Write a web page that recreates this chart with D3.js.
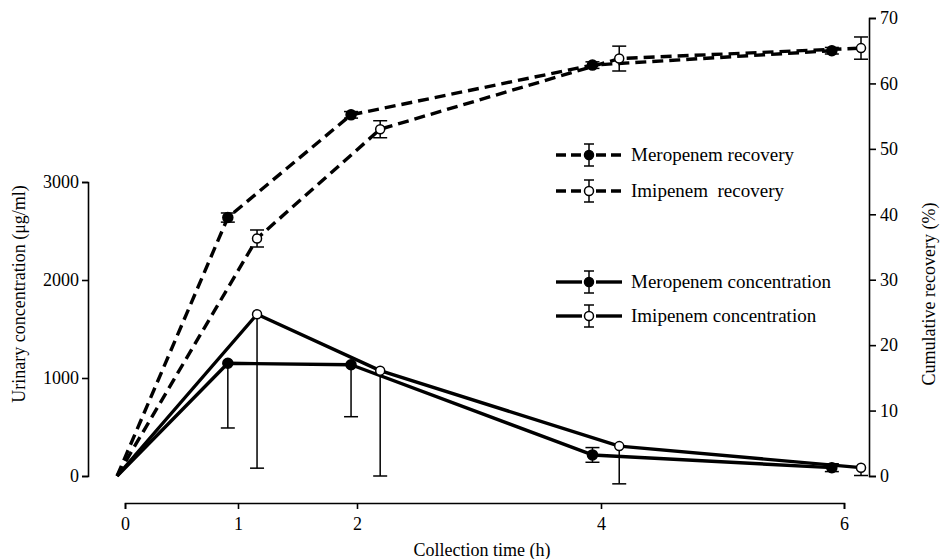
<!DOCTYPE html>
<html>
<head>
<meta charset="utf-8">
<script src="https://cdn.jsdelivr.net/npm/d3@7"></script>
<style>
  body { margin: 0; background: #fff; }
  svg text { font-family: "Liberation Serif", "DejaVu Serif", serif; fill: #000; }
</style>
</head>
<body>
<svg id="chart" width="947" height="559"></svg>
<script>
// collection times (h); first entry is the common start of every curve
const meroTime = [-0.07, 0.91, 1.95, 3.93, 5.9];
const imipTime = [-0.07, 1.16, 2.19, 4.15, 6.14];

// urinary concentration (ug/ml)
const meroConc = [0, 1150, 1135, 215, 85];
const imipConc = [0, 1650, 1075, 305, 85];
const meroConcErrDown = [0, 660, 530, 75, 40];
const meroConcErrUp = [0, 0, 0, 75, 40];
const imipConcErrDown = [0, 1570, 1075, 385, 80];
const imipConcErrUp = [0, 0, 0, 0, 0];

// cumulative recovery (%)
const meroRec = [0, 39.5, 55.2, 62.8, 65.0];
const imipRec = [0, 36.3, 53.0, 63.8, 65.4];
const meroRecErr = [0, 0.7, 0.5, 0.5, 0.5];
const imipRecErr = [0, 1.3, 1.3, 1.9, 1.7];

const xTicks = [0, 1, 2, 4, 6];
const leftTicks = [0, 1000, 2000, 3000];
const rightTicks = [0, 10, 20, 30, 40, 50, 60, 70];
const legendLabels = ["Meropenem recovery", "Imipenem  recovery", "Meropenem concentration", "Imipenem concentration"];

const svg = d3.select("#chart");

// the printed time axis is not quite evenly spaced, so map each tick
const x = d3.scaleLinear().domain(xTicks).range([125, 238, 357, 601, 844]);
const yL = d3.scaleLinear().domain([0, 3000]).range([476, 182]);
const yR = d3.scaleLinear().domain([0, 70]).range([476, 18]);

function styleAxis(g) {
    g.selectAll("path, line").attr("stroke", "#000").attr("stroke-width", 1.6);
    g.selectAll("text").style("font-size", "18px").attr("fill", "#000");
    g.attr("font-family", null);
}

svg.append("g")
    .attr("transform", "translate(0,503)")
    .call(d3.axisBottom(x).tickValues(xTicks).tickSize(6).tickSizeOuter(6).tickPadding(8).tickFormat(d3.format("d")))
    .call(styleAxis);

svg.append("g")
    .attr("transform", "translate(88,0)")
    .call(d3.axisLeft(yL).tickValues(leftTicks).tickSize(6).tickSizeOuter(6).tickPadding(3).tickFormat(d3.format("d")))
    .call(styleAxis);

svg.append("g")
    .attr("transform", "translate(869,0)")
    .call(d3.axisRight(yR).tickValues(rightTicks).tickSize(7).tickSizeOuter(7).tickPadding(4))
    .call(styleAxis);

// axis titles
svg.append("text")
    .attr("x", 482).attr("y", 556)
    .attr("text-anchor", "middle")
    .style("font-size", "18px")
    .text("Collection time (h)");

svg.append("text")
    .attr("transform", "translate(25,294) rotate(-90)")
    .attr("text-anchor", "middle")
    .style("font-size", "18px")
    .text("Urinary concentration (\u03bcg/ml)");

svg.append("text")
    .attr("transform", "translate(935,294) rotate(-90)")
    .attr("text-anchor", "middle")
    .style("font-size", "18px")
    .text("Cumulative recovery (%)");

// series
const series = [
    { t: meroTime, v: meroRec, up: meroRecErr, down: meroRecErr, y: yR, dash: "11,6", filled: true },
    { t: imipTime, v: imipRec, up: imipRecErr, down: imipRecErr, y: yR, dash: "11,6", filled: false },
    { t: meroTime, v: meroConc, up: meroConcErrUp, down: meroConcErrDown, y: yL, dash: null, filled: true },
    { t: imipTime, v: imipConc, up: imipConcErrUp, down: imipConcErrDown, y: yL, dash: null, filled: false }
];

series.forEach(s => {
    const pts = s.t.map((t, i) => ({ t, v: s.v[i], up: s.up[i], down: s.down[i] }));
    const line = d3.line().x(d => x(d.t)).y(d => s.y(d.v));

    svg.append("path")
        .datum(pts)
        .attr("d", line)
        .attr("fill", "none")
        .attr("stroke", "#000")
        .attr("stroke-width", 3.4)
        .attr("stroke-linejoin", "round")
        .attr("stroke-dasharray", s.dash);

    const marks = pts.slice(1);

    // error bars
    const eb = svg.append("g").attr("stroke", "#000").attr("stroke-width", 1.5);
    marks.forEach(d => {
        const cx = x(d.t);
        const yTop = s.y(d.v + d.up);
        const yBot = s.y(d.v - d.down);
        eb.append("line").attr("x1", cx).attr("x2", cx).attr("y1", yTop).attr("y2", yBot);
        if (d.up > 0) eb.append("line").attr("x1", cx - 7).attr("x2", cx + 7).attr("y1", yTop).attr("y2", yTop);
        if (d.down > 0) eb.append("line").attr("x1", cx - 7).attr("x2", cx + 7).attr("y1", yBot).attr("y2", yBot);
    });

    svg.append("g").selectAll("circle")
        .data(marks)
        .enter()
        .append("circle")
        .attr("cx", d => x(d.t))
        .attr("cy", d => s.y(d.v))
        .attr("r", s.filled ? 5 : 4.5)
        .attr("fill", s.filled ? "#000" : "#fff")
        .attr("stroke", "#000")
        .attr("stroke-width", 1.5);
});

// legend
const legendRows = [155, 191, 282, 316];
legendLabels.forEach((label, i) => {
    const g = svg.append("g").attr("transform", `translate(589,${legendRows[i]})`);
    const dashed = i < 2;
    [[-33, -7], [7, 33]].forEach(([a, b]) => {
        g.append("line")
            .attr("x1", a).attr("x2", b).attr("y1", 0).attr("y2", 0)
            .attr("stroke", "#000")
            .attr("stroke-width", 3.4)
            .attr("stroke-dasharray", dashed ? "10,5" : null);
    });
    g.append("line").attr("x1", 0).attr("x2", 0).attr("y1", -11).attr("y2", 11)
        .attr("stroke", "#000").attr("stroke-width", 1.5);
    [-11, 11].forEach(yy => {
        g.append("line").attr("x1", -5).attr("x2", 5).attr("y1", yy).attr("y2", yy)
            .attr("stroke", "#000").attr("stroke-width", 1.5);
    });
    g.append("circle")
        .attr("r", 4.5)
        .attr("fill", i % 2 === 0 ? "#000" : "#fff")
        .attr("stroke", "#000").attr("stroke-width", 1.5);
    g.append("text")
        .attr("x", 42).attr("y", 6)
        .style("font-size", "19px")
        .style("white-space", "pre")
        .text(label);
});
</script>
</body>
</html>
